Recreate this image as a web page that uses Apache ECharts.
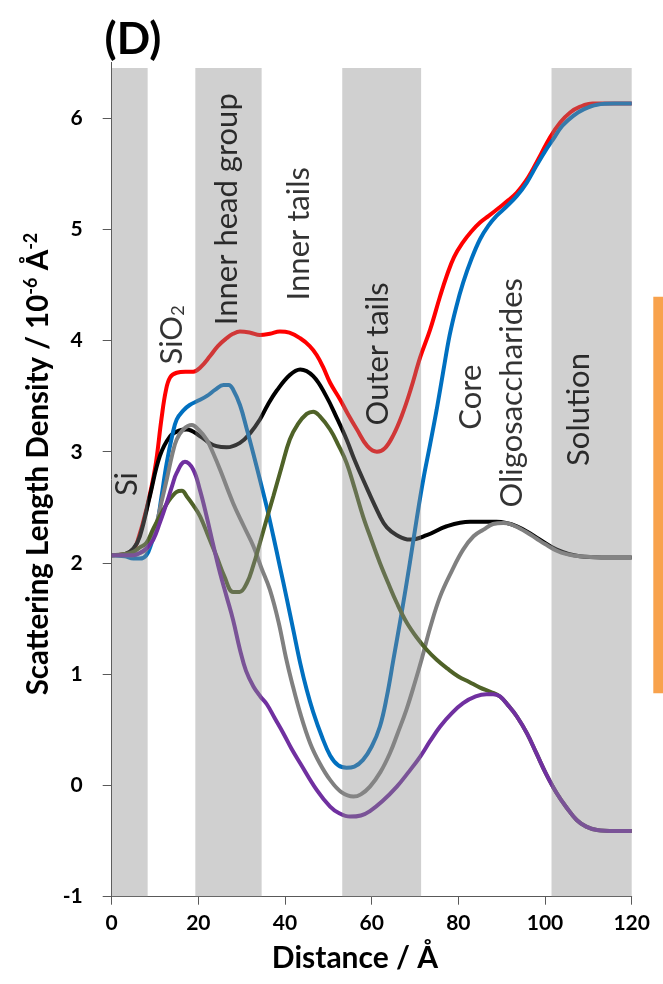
<!DOCTYPE html>
<html>
<head>
<meta charset="utf-8">
<script src="https://cdn.jsdelivr.net/npm/echarts@6/dist/echarts.min.js"></script>
<style>
  html, body { margin: 0; padding: 0; background: #ffffff; }
  #chart { width: 663px; height: 984px; }
</style>
</head>
<body>
<div id="chart"></div>
<script>
// Scattering length density profiles, [distance (Å), SLD (10^-6 Å^-2)]
const sldRed = [[0,2.07],[3,2.08],[5,2.12],[6,2.2],[8,2.48],[10,2.85],[11.5,3.3],[12.5,3.55],[13.5,3.67],[15,3.71],[17,3.72],[18.8,3.72],[20.5,3.76],[22.7,3.86],[24.5,3.95],[26.5,4.02],[28,4.06],[29.6,4.08],[32,4.07],[34.2,4.05],[36.5,4.06],[38.8,4.08],[41,4.07],[43.5,4.02],[45.7,3.95],[47.3,3.87],[48.8,3.76],[50.4,3.62],[52.7,3.47],[54.5,3.34],[56.6,3.2],[59,3.05],[61.2,3.0],[63,3.03],[65,3.15],[67,3.33],[69,3.56],[71.2,3.85],[73.5,4.1],[75.8,4.4],[77.3,4.58],[79,4.75],[81,4.88],[83,4.98],[85,5.06],[87,5.12],[89.6,5.2],[91.5,5.26],[93.5,5.33],[95.5,5.43],[97.2,5.54],[99,5.67],[101.2,5.83],[103.5,5.96],[105.8,6.05],[108,6.1],[111,6.13],[115,6.13],[120,6.13]];
const sldBlack = [[0,2.07],[3,2.08],[5,2.13],[6.5,2.24],[8.8,2.6],[11.1,2.96],[13.5,3.14],[15.5,3.19],[17.3,3.2],[20.4,3.14],[22.5,3.08],[24.2,3.05],[26.5,3.04],[29.6,3.08],[32,3.17],[34.2,3.29],[36,3.42],[38.1,3.55],[41.1,3.69],[43.5,3.74],[46.5,3.68],[49.5,3.5],[52,3.3],[54.2,3.11],[56,2.93],[58,2.75],[61.9,2.42],[63.5,2.32],[65.8,2.25],[68.8,2.21],[72.7,2.25],[77.3,2.33],[82.7,2.37],[88.8,2.37],[93.5,2.33],[98,2.23],[102.7,2.12],[108,2.06],[113,2.05],[120,2.05]];
const sldBlue = [[0,2.07],[3,2.06],[5,2.04],[6.5,2.04],[8,2.07],[9.2,2.18],[10.4,2.33],[11.5,2.6],[12.7,2.9],[14,3.15],[15,3.29],[16.5,3.37],[18,3.42],[20,3.46],[21.9,3.5],[24,3.56],[25.8,3.6],[27,3.6],[28,3.56],[29.6,3.42],[31.2,3.2],[32.7,2.98],[34.2,2.75],[35.8,2.5],[37.3,2.24],[38.8,1.97],[40.4,1.68],[42,1.38],[43.5,1.1],[45,0.86],[46.5,0.66],[48.5,0.44],[50.4,0.27],[52.3,0.18],[54.2,0.16],[56,0.17],[58,0.23],[60,0.35],[61.9,0.53],[63.5,0.8],[65,1.13],[66.9,1.55],[68.8,2.0],[70.4,2.4],[71.9,2.75],[73.5,3.07],[75,3.38],[76.5,3.72],[78,4.05],[79.5,4.3],[81.1,4.52],[83,4.73],[85,4.91],[86.9,5.03],[88.8,5.12],[91,5.2],[93.5,5.3],[95.8,5.42],[98,5.57],[100,5.7],[101.9,5.81],[104,5.93],[106.5,6.02],[109,6.08],[112,6.12],[116,6.13],[120,6.13]];
const sldGrey = [[0,2.07],[3,2.07],[5,2.07],[6.5,2.09],[8,2.12],[9.2,2.2],[10.4,2.36],[11.5,2.55],[12.7,2.75],[14,2.98],[15,3.11],[16.5,3.2],[18.5,3.24],[20,3.2],[21.9,3.11],[23.5,2.98],[25,2.84],[28,2.54],[30.5,2.33],[32.7,2.15],[34.5,1.96],[36.5,1.76],[38.5,1.47],[40.2,1.15],[41.5,0.94],[43.5,0.65],[45.8,0.38],[48,0.2],[50.4,0.05],[53,-0.06],[55.8,-0.1],[57.5,-0.08],[59.6,-0.01],[62,0.12],[64.2,0.29],[66,0.47],[68,0.68],[70,0.93],[71.5,1.13],[73.5,1.42],[75.8,1.7],[78.5,1.93],[81.1,2.12],[83.5,2.24],[85.8,2.3],[88,2.35],[90.4,2.36],[92,2.35],[94.2,2.31],[96,2.27],[98,2.22],[100,2.17],[102.7,2.11],[105,2.08],[108,2.06],[113,2.05],[120,2.05]];
const sldGreen = [[0,2.07],[3,2.08],[5,2.1],[6.5,2.14],[8,2.18],[9.5,2.3],[11.1,2.42],[13,2.55],[15,2.64],[16.2,2.65],[17.3,2.6],[18.8,2.52],[20.4,2.42],[22.3,2.24],[24.2,2.06],[26,1.88],[28,1.74],[29.5,1.74],[31.2,1.82],[32.7,1.98],[34.2,2.18],[35.8,2.4],[37.3,2.6],[39.2,2.86],[41.1,3.11],[43,3.25],[45,3.34],[46.5,3.36],[48,3.32],[50.4,3.2],[52.3,3.06],[54.2,2.9],[56,2.68],[58,2.42],[60,2.2],[61.9,2.0],[63.8,1.82],[65.8,1.64],[68,1.47],[70.4,1.33],[72.7,1.22],[75,1.13],[77.5,1.05],[80,0.98],[82.5,0.93],[85,0.88],[87.5,0.84],[89.6,0.8],[91.5,0.72],[93.5,0.62],[95.8,0.47],[98,0.29],[100.3,0.1],[102.7,-0.07],[105,-0.2],[107.3,-0.31],[109.5,-0.37],[112,-0.4],[116,-0.41],[120,-0.41]];
const sldPurple = [[0,2.07],[3,2.07],[5,2.07],[6.5,2.09],[8,2.13],[9.6,2.21],[11.1,2.36],[12.7,2.54],[14,2.7],[15,2.81],[16.9,2.91],[18.8,2.84],[20.4,2.65],[21.9,2.42],[23.5,2.15],[25,1.91],[26.5,1.7],[28,1.49],[29.6,1.22],[31,1.03],[32.7,0.89],[34.3,0.8],[35.8,0.73],[37.7,0.6],[39.6,0.47],[41.5,0.33],[43.5,0.2],[47.3,-0.04],[50.4,-0.19],[52.5,-0.25],[55,-0.28],[57.5,-0.27],[59.6,-0.23],[62.5,-0.14],[65.8,-0.01],[68.5,0.12],[71.2,0.26],[73.5,0.4],[75.8,0.53],[78.5,0.65],[81.1,0.74],[84,0.8],[86.5,0.82],[88,0.82],[89.6,0.8],[91.5,0.72],[93.5,0.62],[95.8,0.47],[98,0.29],[100.3,0.1],[102.7,-0.07],[105,-0.2],[107.3,-0.31],[109.5,-0.37],[112,-0.4],[116,-0.41],[120,-0.41]];

// Shaded layer regions (Å)
const bandStart = [0, 19.3, 53.2, 101.5];
const bandEnd = [8.3, 34.6, 71.4, 120];
const bandTop = 6.45;
const bandBottom = -1;

// Layer names, placed at (distance, SLD)
const regionNames = ['Si', 'SiO2', 'Inner head group', 'Inner tails', 'Outer tails', 'Core', 'Oligosaccharides', 'Solution'];
const regionX = [3.5, 13.9, 26.6, 43.2, 61.4, 82.9, 92.4, 107.9];
const regionY = [2.71, 4.05, 5.18, 4.96, 3.88, 3.49, 3.53, 3.38];

const yTicks = [-1, 0, 1, 2, 3, 4, 5, 6];

const FONT = 'Lato';
const chart = echarts.init(document.getElementById('chart'), null, { renderer: 'canvas' });

function profile(name, data, color, z) {
  return {
    type: 'line', name: name, data: data, smooth: 0.4, symbol: 'none', z: z,
    lineStyle: { color: color, width: 4 }, silent: true
  };
}

const axisColor = '#595959';

chart.setOption({
  animation: false,
  backgroundColor: '#ffffff',
  grid: { left: 111.7, right: 31.3, top: 62.4, bottom: 87.3, containLabel: false, outerBoundsMode: 'none' },
  xAxis: {
    type: 'value', min: 0, max: 120, interval: 20,
    axisLine: { show: true, onZero: false, lineStyle: { color: axisColor, width: 1 } },
    axisTick: { show: true, inside: false, length: 8, lineStyle: { color: axisColor } },
    axisLabel: { fontFamily: FONT, fontWeight: 'bold', fontSize: 21, color: '#000', margin: 16 },
    splitLine: { show: false }
  },
  yAxis: {
    type: 'value', min: -1, max: 6.5, interval: 1,
    axisLine: { show: true, onZero: false, lineStyle: { color: axisColor, width: 1 } },
    axisTick: { show: true, inside: false, length: 9, lineStyle: { color: axisColor }, customValues: yTicks },
    axisLabel: { fontFamily: FONT, fontWeight: 'bold', fontSize: 21, color: '#000', margin: 29, customValues: yTicks },
    splitLine: { show: false }
  },
  series: [
    profile('red', sldRed, '#ff0000', 2),
    profile('black', sldBlack, '#000000', 3),
    profile('blue', sldBlue, '#0070c0', 4),
    profile('grey', sldGrey, '#808080', 5),
    profile('green', sldGreen, '#4f6228', 6),
    profile('purple', sldPurple, '#7030a0', 7),
    {
      type: 'custom', name: 'layers', z: 10, silent: true,
      data: bandStart.map(function (s, i) { return [s, bandEnd[i]]; }),
      renderItem: function (params, api) {
        const p0 = api.coord([api.value(0), bandTop]);
        const p1 = api.coord([api.value(1), bandBottom]);
        return {
          type: 'rect',
          shape: { x: p0[0], y: p0[1], width: p1[0] - p0[0], height: p1[1] - p0[1] },
          style: { fill: 'rgba(137,137,137,0.4)' }
        };
      }
    },
    {
      type: 'scatter', name: 'labels', z: 12, silent: true, symbolSize: 0,
      data: regionNames.map(function (n, i) { return { name: n, value: [regionX[i], regionY[i]] }; }),
      label: {
        show: true, position: 'inside', rotate: 90,
        fontFamily: FONT, fontSize: 31, color: '#000',
        formatter: function (p) { return p.name === 'SiO2' ? 'SiO{sub|2}' : p.name; },
        rich: { sub: { fontFamily: FONT, fontSize: 18, color: '#000', verticalAlign: 'bottom', padding: [12, 0, 0, 0] } }
      }
    }
  ],
  graphic: [
    {
      type: 'text', x: 133, y: 40, z: 100,
      style: { text: '(D)', fontFamily: FONT, fontWeight: 'bold', fontSize: 44, fill: '#000', align: 'center', verticalAlign: 'middle' }
    },
    {
      type: 'text', x: 38, y: 464, rotation: Math.PI / 2, z: 100,
      style: {
        text: 'Scattering Length Density / 10{sup|-6} Å{sup|-2}',
        fontFamily: FONT, fontWeight: 'bold', fontSize: 29.5, fill: '#000', align: 'center', verticalAlign: 'middle',
        rich: { sup: { fontFamily: FONT, fontWeight: 'bold', fontSize: 18, fill: '#000', verticalAlign: 'top', padding: [0, 0, 14, 0] } }
      }
    },
    {
      type: 'text', x: 355, y: 958, z: 100,
      style: { text: 'Distance / Å', fontFamily: FONT, fontWeight: 'bold', fontSize: 30, fill: '#000', align: 'center', verticalAlign: 'middle' }
    },
    {
      type: 'rect', z: 100,
      shape: { x: 653.3, y: 296.7, width: 12, height: 396.6 },
      style: { fill: '#f8a24c' }
    }
  ]
});
</script>
</body>
</html>
